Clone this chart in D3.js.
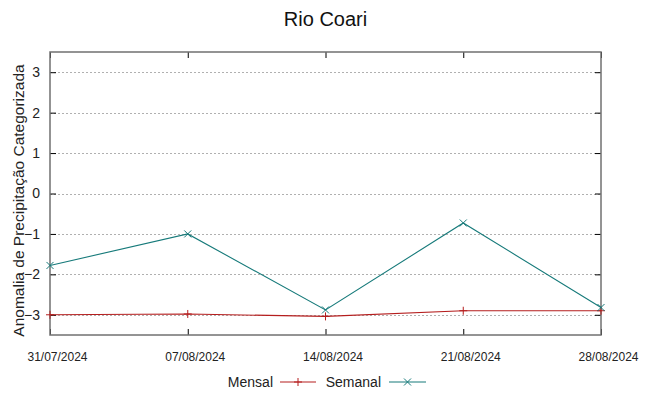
<!DOCTYPE html>
<html>
<head>
<meta charset="utf-8">
<style>
  body {margin: 0; background: #fff; font-family: "Liberation Sans", Arial, sans-serif;}
</style>
<script src="https://d3js.org/d3.v7.min.js"></script>
</head>
<body>
<div id="chart"></div>
<script>

const dates = ['31/07/2024', '07/08/2024', '14/08/2024', '21/08/2024', '28/08/2024']
const mensal = [-3.0, -2.98, -3.04, -2.9, -2.9]
const semanal = [-1.78, -1.0, -2.88, -0.73, -2.82]
const yTicks = [-3, -2, -1, 0, 1, 2, 3]

const width = 649
const height = 396
const margin = {top: 52, right: 48, bottom: 61, left: 50}

const parse = d3.timeParse('%d/%m/%Y')
const days = dates.map(parse)

const svg = d3.select('#chart').append('svg')
  .attr('width', width)
  .attr('height', height)

const x = d3.scaleTime()
  .domain([days[0], days[days.length - 1]])
  .range([margin.left, width - margin.right])

const y = d3.scaleLinear()
  .domain([-3.5, 3.5])
  .range([height - margin.bottom, margin.top])

// grid
svg.append('g')
  .selectAll('line')
  .data(yTicks)
  .enter().append('line')
  .attr('x1', margin.left)
  .attr('x2', width - margin.right)
  .attr('y1', d => Math.round(y(d)) + 0.5)
  .attr('y2', d => Math.round(y(d)) + 0.5)
  .style('stroke', '#b0b0b0')
  .style('stroke-width', 1)
  .style('stroke-dasharray', '2,2')

// frame ticks (inward)
const tickLen = 6
const axisL = d3.axisLeft(y).tickValues(yTicks).tickSize(-tickLen).tickPadding(10).tickFormat(d3.format('d'))
const axisR = d3.axisRight(y).tickValues(yTicks).tickSize(-tickLen).tickFormat('')
const axisB = d3.axisBottom(x).tickValues(days).tickSize(-tickLen).tickPadding(17).tickFormat(d3.timeFormat('%d/%m/%Y'))
const axisT = d3.axisTop(x).tickValues(days).tickSize(-tickLen).tickFormat('')

const gL = svg.append('g').attr('transform', 'translate(' + margin.left + ',0)').call(axisL)
const gR = svg.append('g').attr('transform', 'translate(' + (width - margin.right) + ',0)').call(axisR)
const gB = svg.append('g').attr('transform', 'translate(0,' + (height - margin.bottom) + ')').call(axisB)
const gT = svg.append('g').attr('transform', 'translate(0,' + margin.top + ')').call(axisT)

;[gL, gR, gB, gT].forEach(g => {
  g.select('.domain').remove()
  g.selectAll('line').style('stroke', '#000')
})
gL.selectAll('text').style('font-size', '14px').style('fill', '#222').style('font-family', 'Liberation Sans')
gB.selectAll('text')
  .attr('dx', 7)
  .style('font-size', '12px').style('fill', '#222').style('font-family', 'Liberation Sans')

// frame
svg.append('rect')
  .attr('x', margin.left)
  .attr('y', margin.top)
  .attr('width', width - margin.left - margin.right)
  .attr('height', height - margin.top - margin.bottom)
  .style('fill', 'none')
  .style('stroke', '#707070')
  .style('stroke-width', 1.5)

const line = d3.line()
  .x((d, i) => x(days[i]))
  .y(d => y(d))

const series = [
  {name: 'Mensal', values: mensal, color: '#b51e1e', mark: 'plus'},
  {name: 'Semanal', values: semanal, color: '#167a7a', mark: 'cross'}
]

function marker(g, type, cx, cy, color) {
  const s = type === 'plus' ? 4 : 3.5
  if (type === 'plus') {
    g.append('path')
      .attr('d', 'M' + (cx - s) + ',' + cy + 'H' + (cx + s) + 'M' + cx + ',' + (cy - s) + 'V' + (cy + s))
      .style('stroke', color).style('stroke-width', 1).style('fill', 'none')
  } else {
    g.append('path')
      .attr('d', 'M' + (cx - s) + ',' + (cy - s) + 'L' + (cx + s) + ',' + (cy + s) + 'M' + (cx - s) + ',' + (cy + s) + 'L' + (cx + s) + ',' + (cy - s))
      .style('stroke', color).style('stroke-width', 1).style('fill', 'none')
  }
}

series.forEach(s => {
  const g = svg.append('g')
  g.append('path')
    .datum(s.values)
    .attr('d', line)
    .style('fill', 'none')
    .style('stroke', s.color)
    .style('stroke-width', 1.1)
  s.values.forEach((v, i) => marker(g, s.mark, x(days[i]), y(v), s.color))
})

// title
svg.append('text')
  .attr('x', (margin.left + width - margin.right) / 2)
  .attr('y', 26)
  .attr('text-anchor', 'middle')
  .style('font-size', '20px')
  .style('fill', '#111')
  .text('Rio Coari')

// y title
svg.append('text')
  .attr('transform', 'translate(24,' + ((margin.top + height - margin.bottom) / 2 + 7) + ') rotate(-90)')
  .attr('text-anchor', 'middle')
  .style('font-size', '15.5px')
  .style('fill', '#222')
  .text('Anomalia de Precipitação Categorizada')

// legend
const legendY = 382
const legend = svg.append('g')
const legendItems = [
  {label: 'Mensal', textEnd: 273, x0: 280, x1: 316},
  {label: 'Semanal', textEnd: 381, x0: 389, x1: 426}
]
legendItems.forEach((it, i) => {
  const s = series[i]
  legend.append('text')
    .attr('x', it.textEnd)
    .attr('y', legendY + 5)
    .attr('text-anchor', 'end')
    .style('font-size', '14px')
    .style('fill', '#222')
    .text(it.label)
  legend.append('line')
    .attr('x1', it.x0).attr('x2', it.x1)
    .attr('y1', legendY).attr('y2', legendY)
    .style('stroke', s.color).style('stroke-width', 1.1)
  marker(legend, s.mark, (it.x0 + it.x1) / 2, legendY, s.color)
})

</script>
</body>
</html>
